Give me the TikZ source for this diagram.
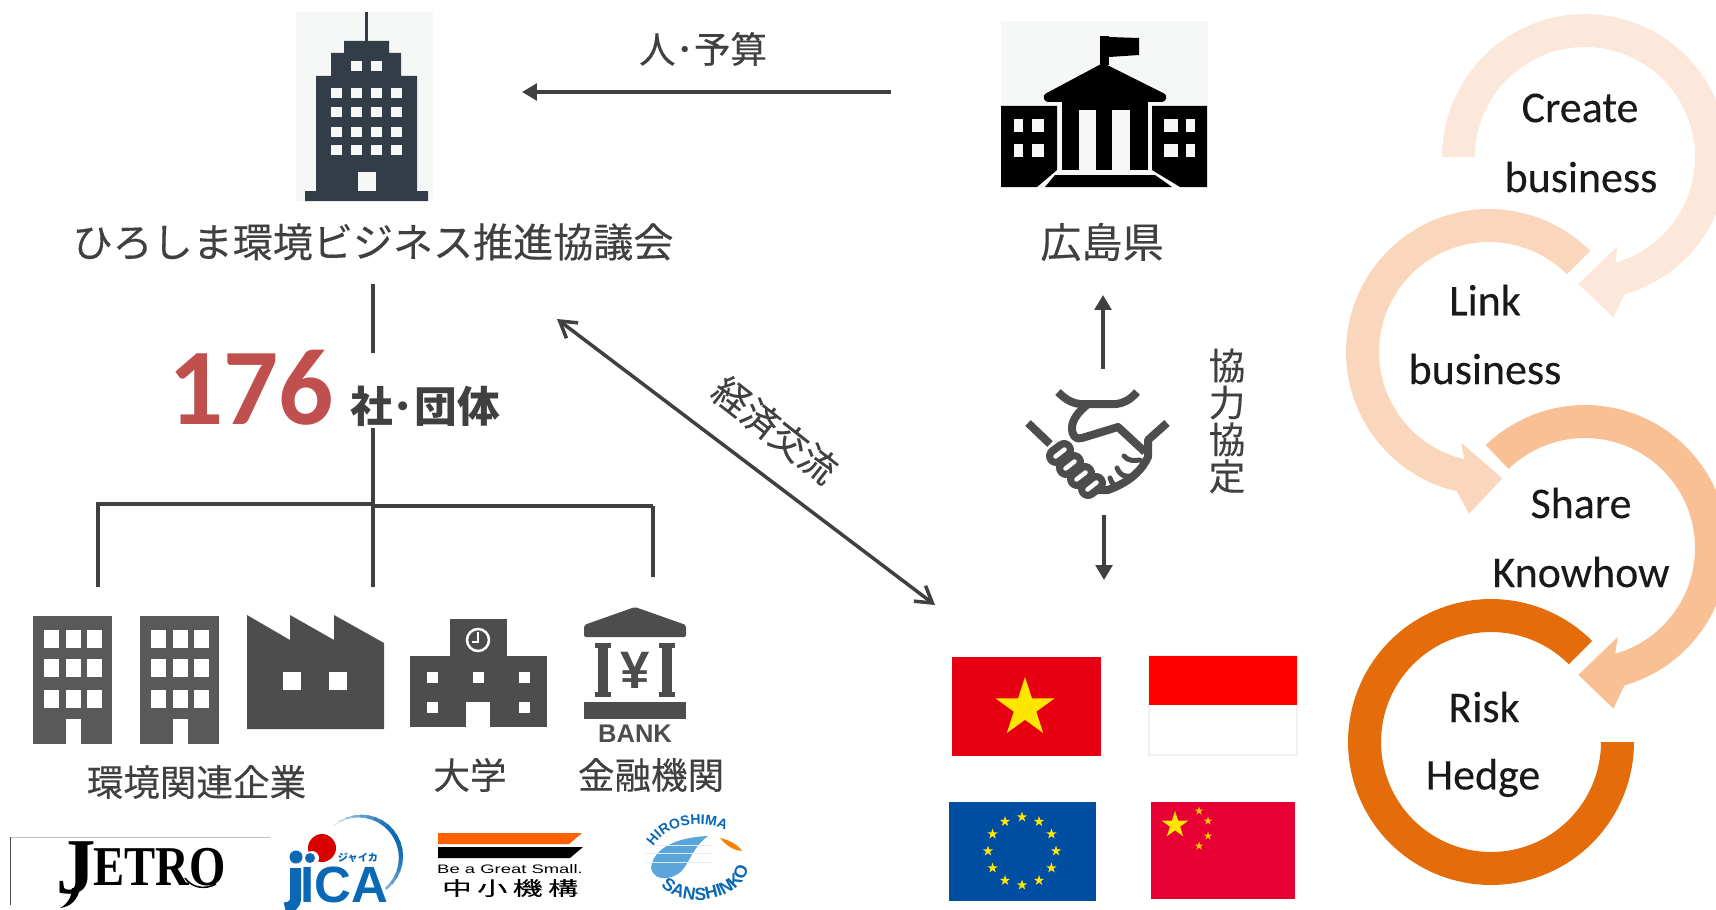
\documentclass[tikz,border=0pt]{standalone}
\usepackage{graphicx}
\usepackage{fontspec}
\setmainfont{Noto Sans CJK JP}
\newfontfamily\jpfont[FakeBold=0.25]{Noto Sans CJK JP}
\newfontfamily\latinfont{Carlito}
\newfontfamily\cyclefont[FakeBold=0.2]{Carlito}
\newfontfamily\headfont{Liberation Sans}
\newfontfamily\logofont{Liberation Serif}
\usetikzlibrary{calc,positioning,arrows.meta,decorations.text}

\definecolor{labelgray}{HTML}{404040}
\definecolor{icongray}{HTML}{4D4D4D}
\definecolor{officegray}{HTML}{595959}
\definecolor{hqdark}{HTML}{333D47}
\definecolor{paleback}{HTML}{F6F8F8}
\definecolor{starred}{HTML}{C0504D}
\definecolor{flagyellow}{HTML}{FFE600}
\definecolor{jicablue}{HTML}{0A68B4}
\definecolor{swoosh}{HTML}{5AA5DC}
\definecolor{vnred}{HTML}{E60012}
\definecolor{eublue}{HTML}{004EA2}
\definecolor{cnred}{HTML}{E60033}
\definecolor{cycleone}{HTML}{FCE8DB}
\definecolor{cycletwo}{HTML}{FAD7BC}
\definecolor{cyclethree}{HTML}{F8C094}
\definecolor{cyclefour}{HTML}{E46C0A}

\def\px{0.02cm}
\tikzset{
  jplabel/.style={font=\jpfont\fontsize{20.8}{24}\selectfont,text=labelgray,inner sep=0pt},
  cyclelabel/.style={font=\cyclefont\fontsize{25}{30}\selectfont,text=black!90,inner sep=0pt},
  treeline/.style={draw=labelgray,line width=4.5*\px},
  thinline/.style={draw=labelgray,line width=3.5*\px},
  headarrow/.style={draw=labelgray,line width=3.5*\px,-{Triangle[length=8.5pt,width=9.5pt]}},
}

% star on a flag: x, y, radius, colour
\newcommand{\flagstar}[4]{
  \fill[#4] plot[samples at={0,1,...,9}] ({#1+(#3)*(1-0.618*mod(\x,2))*cos(-90+36*\x)},{#2+(#3)*(1-0.618*mod(\x,2))*sin(-90+36*\x)}) -- cycle;
}
% ring arrow: x, y, start angle, end angle, sweep sign, colour
\newcommand{\ringarrow}[6]{
  \pgfmathsetmacro{\headin}{#4-4*#5}
  \pgfmathsetmacro{\headout}{#4+6*#5}
  \pgfmathsetmacro{\headtip}{#4+19*#5}
  \fill[#6] plot[domain=#3:#4,samples=90] ({#1+143*cos(\x)},{#2+143*sin(\x)})
    -- ({#1+163*cos(\headout)},{#2+163*sin(\headout)})
    -- ({#1+127*cos(\headtip)},{#2+127*sin(\headtip)})
    -- ({#1+95*cos(\headin)},{#2+95*sin(\headin)})
    -- plot[domain=#4:#3,samples=90] ({#1+110*cos(\x)},{#2+110*sin(\x)}) -- cycle;
}

\begin{document}
\begin{tikzpicture}[x=0.02cm,y=-0.02cm]
\clip (0,0) rectangle (1716,909);

% Head office tower
\fill[paleback] (296,12) rectangle (433,201);
\draw[hqdark,line width=3.5*\px] (366.5,12) -- (366.5,41);
\fill[hqdark] (344,41) -- (389,41) -- (389,53) -- (401,53) -- (401,76) -- (417,76) -- (417,191)
  -- (428,191) -- (428,201) -- (305,201) -- (305,191) -- (316,191) -- (316,76) -- (331,76) -- (331,53) -- (344,53) -- cycle;
\foreach \wx in {351,371} {\fill[paleback] (\wx,61) rectangle ++(11,10);}
\foreach \wx in {331,351,371,391} {
  \foreach \wy in {88,107,127,145} {
    \fill[paleback] (\wx,\wy) rectangle ++(11,10);
  }
}
\fill[paleback] (358,172) rectangle (376,191);
\node[jplabel,font=\jpfont\fontsize{22.8}{26}\selectfont] (hqlabel) at (373,242) {ひろしま環境ビジネス推進協議会};

% Prefecture building
\fill[paleback] (1001,21) rectangle (1208,187);
\fill[black] (1001,106) -- (1057,106) -- (1057,170) -- (1037,187) -- (1001,187) -- cycle;
\fill[black] (1207,106) -- (1152,106) -- (1152,170) -- (1180,187) -- (1207,187) -- cycle;
\foreach \wx/\ww in {1014/9,1032/12,1164/14,1186/9} {
  \foreach \wy in {119,144} {
    \fill[paleback] (\wx,\wy) rectangle ++(\ww,12.5);
  }
}
\fill[black,rounded corners=3*\px] (1103,63) -- (1167,95) -- (1165,102) -- (1045,102) -- (1043,95) -- cycle;
\fill[black] (1062,101) rectangle (1148,170);
\fill[paleback] (1079,110) rectangle (1096,170);
\fill[paleback] (1112,110) rectangle (1130,170);
\fill[black] (1055,175) -- (1155,175) -- (1172,187) -- (1045,187) -- cycle;
\fill[black] (1100,36) rectangle (1109,65);
\fill[black] (1109,37) -- (1139,38) -- (1139,55) -- (1109,57) -- cycle;
\node[jplabel,font=\jpfont\fontsize{23.4}{26}\selectfont] (preflabel) at (1102,242) {広島県};

% Budget flow
\coordinate (budgetfrom) at (891,92);
\coordinate (budgetto) at (522,92);
\draw[headarrow] (budgetfrom) -- (budgetto);
\node[jplabel] (budgetlabel) at (703,49) {人･予算};

% Member tree
\coordinate (trunktop) at (373,284);
\coordinate (trunkgap) at (373,353);
\coordinate (trunklow) at (373,428);
\coordinate (trunkbase) at (373,587);
\coordinate (treeleft) at (98,504);
\coordinate (treeleftend) at (98,587);
\coordinate (treejoin) at (373,506);
\coordinate (treeright) at (653,506);
\coordinate (treerightend) at (653,577);
\draw[treeline] (trunktop) -- (trunkgap);
\draw[treeline] (trunklow) -- (trunkbase);
\draw[thinline] (treeleftend) -- (treeleft) -- (trunklow |- treeleft);
\draw[treeline] (treejoin) -- (treeright);
\draw[thinline] (treeright) -- (treerightend);
\node[font=\latinfont\bfseries\fontsize{62}{70}\selectfont,text=starred,inner sep=0pt] (membercount) at (251,388) {176};
\node[jplabel,font=\bfseries\fontsize{24.3}{28}\selectfont] (memberlabel) at (425,406) {社･団体};

% Offices
\foreach \ox in {33,140} {
  \fill[officegray] (\ox,616) rectangle ++(79,128);
  \foreach \wx in {11,33,54} {
    \foreach \wy in {630,659,690} {
      \fill[white] (\ox+\wx,\wy) rectangle ++(14.5,18);
    }
  }
  \fill[white] (\ox+32.5,719) rectangle ++(15,25);
}
% Factory
\fill[icongray] (247,615) -- (290,640) -- (290,615) -- (334,640) -- (334,615) -- (384,643) -- (384,729) -- (247,729) -- cycle;
\fill[white] (283,672) rectangle (301,690);
\fill[white] (328.5,672) rectangle (347,690);
% School
\fill[icongray] (449.5,619) rectangle (507,656);
\fill[icongray] (410,656) rectangle (547,727);
\foreach \wx in {427,473,519} {\fill[white] (\wx,672) rectangle ++(10.5,11);}
\foreach \wx in {427,519} {\fill[white] (\wx,702) rectangle ++(10.5,11);}
\fill[white] (466,702) rectangle (490,727);
\draw[white,line width=2.5*\px] (478,640) circle (11);
\draw[white,line width=2*\px] (478,632) -- (478,642) -- (472,642);
% Bank
\fill[icongray,rounded corners=2*\px] (635,607) -- (686,625) -- (686,637) -- (584,637) -- (584,625) -- cycle;
\foreach \cx in {603,667} {
  \fill[icongray] (\cx-8,643) rectangle (\cx+8,648);
  \fill[icongray] (\cx-5,648) rectangle (\cx+5,692);
  \fill[icongray] (\cx-8,692) rectangle (\cx+8,697);
}
\fill[icongray] (584,702) rectangle (686,719);
\node[font=\headfont\bfseries\fontsize{30}{34}\selectfont,text=icongray,inner sep=0pt] (banksign) at (635,670) {¥};
\node[font=\headfont\bfseries\fontsize{14.5}{16}\selectfont,text=icongray,inner sep=0pt] (banktext) at (635,734) {BANK};
\node[jplabel] (corplabel) at (196.5,782) {環境関連企業};
\node[jplabel] (unilabel) at (470,775) {大学};
\node[jplabel] (banklabel) at (651,775) {金融機関};

% JETRO logo
\draw[black!25] (10,837) -- (270,837);
\draw[black!70] (10,837) -- (10,905);
\node[font=\logofont\bfseries\fontsize{45}{50}\selectfont,anchor=base west,inner sep=0pt] (jetroj) at (56,893) {J};
\fill[black] (72,888) .. controls (72,898) and (66,905) .. (60,908) .. controls (70,907) and (78,900) .. (80,888) -- cycle;
\node[font=\logofont\bfseries\fontsize{32}{36}\selectfont,anchor=base west,inner sep=0pt] (jetrotext) at (93,885) {\scalebox{.83}[1]{ETRO}};
\draw[black,line width=1.5*\px] (185,878) .. controls (192,888) and (205,890) .. (216,884);

% JICA logo
\foreach \ang in {-130,-120,...,40} {
  \pgfmathsetmacro{\fade}{int(30+70*cos(\ang+30))}
  \draw[jicablue!\fade!white,line width={(1.5+3*cos(\ang+30))*\px}] ({360+41*cos(\ang)},{857+41*sin(\ang)}) -- ({360+41*cos(\ang+11)},{857+41*sin(\ang+11)});
}
\fill[red!85!black] (322,848) circle (14);
\fill[jicablue] (296,857) circle (6.5);
\fill[white] (312,858) circle (7);
\fill[jicablue] (310,858) circle (5);
\draw[jicablue,line width=11*\px] (295.5,868) -- (295.5,898) .. controls (295.5,905) and (291,907) .. (285,908);
\node[font=\headfont\bfseries\fontsize{29}{32}\selectfont,text=jicablue,anchor=base west,inner sep=0pt] (jicatext) at (300,902) {ICA};
\node[font=\bfseries\fontsize{5.8}{7}\selectfont,text=jicablue,inner sep=0pt] (jicakana) at (358,858) {ジャイカ};

% SME agency logo
\fill[orange!75!red] (438,833) -- (582,833) -- (569,844) -- (438,844) -- cycle;
\fill[black] (438,847) -- (583,847) -- (570,858) -- (438,858) -- cycle;
\node[font=\headfont\fontsize{7}{9}\selectfont,inner sep=0pt] (smetext) at (510,869) {\scalebox{1.5}[1]{Be a Great Small.}};
\node[font=\jpfont\fontsize{11}{13}\selectfont,inner sep=0pt] (smename) at (510,888) {\scalebox{1.55}[1]{中\hspace{2pt}小\hspace{2pt}機\hspace{2pt}構}};

% Sanshinko logo
\fill[swoosh] (651,868) .. controls (652,855) and (665,838) .. (708,836)
  .. controls (695,845) and (690,860) .. (684,868) .. controls (678,878) and (655,885) .. (651,868) -- cycle;
\foreach \sy in {845,853,862} {\draw[white!80!swoosh,line width=1*\px] (645,\sy) -- (712,\sy);}
\fill[orange] (720,838) .. controls (730,840) and (738,845) .. (742,851) .. controls (732,850) and (726,845) .. (720,838) -- cycle;
\path[decorate,decoration={text along path,text align=center,
  text={|\headfont\bfseries\fontsize{8}{9}\selectfont\color{jicablue}|HIROSHIMA}}]
  plot[domain=195:310,samples=40] ({699+50*cos(\x)},{862+38*sin(\x)});
\path[decorate,decoration={text along path,text align=center,
  text={|\headfont\bfseries\fontsize{10}{11}\selectfont\color{jicablue}|SANSHINKO}}]
  plot[domain=152:-5,samples=40] ({699+50*cos(\x)},{862+38*sin(\x)});

% Handshake
\begin{scope}[icongray,line width=8*\px,line join=round]
\draw (1058,392) .. controls (1066,400) and (1072,403) .. (1080,404) -- (1116,404) .. controls (1124,403) and (1130,400) .. (1137,392);
\draw (1088,404) .. controls (1078,412) and (1072,420) .. (1072,428) .. controls (1072,436) and (1076,440) .. (1082,438) -- (1118,427) -- (1145,452);
\draw (1167,423) -- (1148,440) -- (1148,457) .. controls (1142,470) and (1130,482) .. (1108,490) -- (1092,490);
\draw (1028,423) -- (1050,444);
\foreach \fx/\fy in {1060/453,1070/465,1081/476,1092/486} {
  \draw[line width=20*\px,line cap=round] (\fx-4,\fy+3) -- (\fx+4,\fy-3);
}
\foreach \fx/\fy in {1060/453,1070/465,1081/476,1092/486} {
  \draw[white,line width=4.5*\px,line cap=round] (\fx-4.5,\fy+3.5) -- (\fx+4.5,\fy-3.5);
}
\draw[line width=5*\px,line cap=round] (1124,456) .. controls (1128,461) and (1134,461) .. (1140,460);
\draw[line width=5*\px,line cap=round] (1117,468) .. controls (1120,475) and (1124,477) .. (1130,476);
\draw[line width=5*\px,line cap=round] (1110,478) .. controls (1112,484) and (1114,486) .. (1120,486);
\end{scope}

% Agreement arrows
\coordinate (agreeup) at (1103,369);
\coordinate (agreetop) at (1103,295);
\coordinate (agreedown) at (1104,515);
\coordinate (agreebottom) at (1104,580);
\draw[headarrow] (agreeup) -- (agreetop);
\draw[headarrow] (agreedown) -- (agreebottom);
\node[jplabel,font=\jpfont\fontsize{20.8}{21}\selectfont,align=center] (agreelabel) at (1227,421) {協\\力\\協\\定};

% Economic exchange
\coordinate (tradeleft) at (557,319);
\coordinate (traderight) at (935,605);
\draw[thinline,{Straight Barb[length=9pt,width=11pt]}-{Straight Barb[length=9pt,width=11pt]}] (tradeleft) -- (traderight);
\node[jplabel,rotate=-38] (tradelabel) at (775,430) {経済交流};

% Flags
\fill[vnred] (952,657) rectangle (1101,756);
\flagstar{1025}{708}{31}{flagyellow}
\draw[black!6,line width=1.5*\px] (1149,656) rectangle (1297,755);
\fill[red] (1149,656) rectangle (1297,705);
\fill[eublue] (949,802) rectangle (1096,901);
\foreach \ang in {0,30,...,330} {
  \flagstar{1022+34*cos(\ang)}{851+34*sin(\ang)}{5.5}{flagyellow}
}
\fill[cnred] (1151,802) rectangle (1295,899);
\flagstar{1175}{825}{14}{flagyellow}
\foreach \sx/\sy in {1199/811,1208/821,1208/836,1199/846} {
  \flagstar{\sx}{\sy}{4.5}{flagyellow!70!orange}
}

% Business cycle
\ringarrow{1585}{157}{180}{434}{1}{cycleone}
\ringarrow{1489}{352}{-45}{-257}{-1}{cycletwo}
\ringarrow{1585}{548}{226}{434}{1}{cyclethree}
\fill[cyclefour] plot[domain=-45:-360,samples=120] ({1491+143*cos(\x)},{742+143*sin(\x)})
  -- plot[domain=-360:-45,samples=120] ({1491+110*cos(\x)},{742+110*sin(\x)}) -- cycle;
\node[cyclelabel] (createlabel) at (1580,108) {Create};
\node[cyclelabel] (createlabelb) at (1581,177) {business};
\node[cyclelabel] (linklabel) at (1485,300) {Link};
\node[cyclelabel] (linklabelb) at (1485,369) {business};
\node[cyclelabel] (sharelabel) at (1581,503) {Share};
\node[cyclelabel] (sharelabelb) at (1581,572) {Knowhow};
\node[cyclelabel] (risklabel) at (1484,707) {Risk};
\node[cyclelabel] (risklabelb) at (1483,778) {Hedge};
\end{tikzpicture}
\end{document}
